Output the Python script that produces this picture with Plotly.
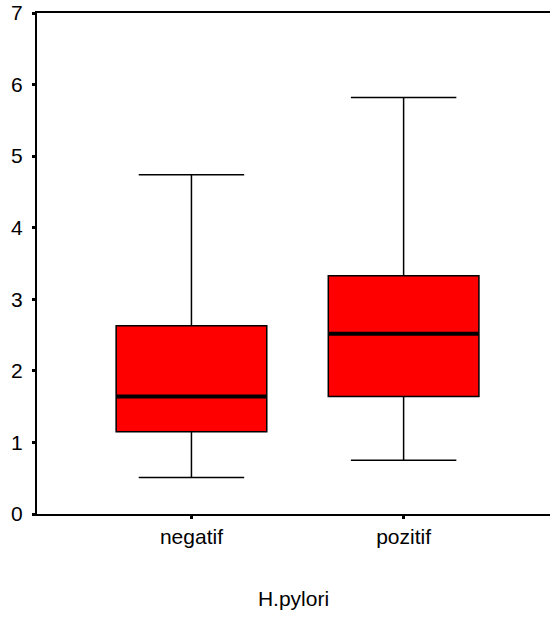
import plotly.graph_objects as go

categories = ["negatif", "pozitif"]
lower_whisker = [0.51, 0.75]
q1 = [1.15, 1.64]
median = [1.64, 2.52]
q3 = [2.63, 3.33]
upper_whisker = [4.74, 5.82]
y_ticks = [0, 1, 2, 3, 4, 5, 6, 7]

positions = list(range(len(categories)))
box_w = 0.71

fig = go.Figure()
fig.add_trace(go.Box(
    x=positions,
    lowerfence=lower_whisker, q1=q1, median=median, q3=q3, upperfence=upper_whisker,
    width=box_w, whiskerwidth=0.7,
    fillcolor="#ff0000", line=dict(color="black", width=1.5),
    boxpoints=False, showlegend=False, hoverinfo="skip",
))
# thick median lines
for p, m in zip(positions, median):
    fig.add_trace(go.Scatter(
        x=[p - box_w / 2, p + box_w / 2], y=[m, m], mode="lines",
        line=dict(color="black", width=4), showlegend=False, hoverinfo="skip",
    ))

font = dict(family="Liberation Sans, Arial, sans-serif", size=21, color="#000000")
fig.update_layout(
    width=550, height=619,
    margin=dict(l=37, r=0, t=13, b=105),
    plot_bgcolor="white", paper_bgcolor="white",
    font=font,
    xaxis=dict(
        range=[-0.728, 1.69], tickvals=positions, ticktext=categories,
        showline=True, linecolor="black", linewidth=2, mirror=True,
        ticks="outside", ticklen=3, tickwidth=3, tickcolor="black",
        showgrid=False, zeroline=False, automargin=False,
        title=dict(text="H.pylori", standoff=44, font=font),
    ),
    yaxis=dict(
        range=[0, 7], tickvals=y_ticks,
        showline=True, linecolor="black", linewidth=2,
        ticks="outside", ticklen=3, tickwidth=3, tickcolor="black",
        showgrid=False, zeroline=False, automargin=False,
        ticklabelstandoff=5, ticklabeloverflow="allow",
    ),
)
fig.write_html(
    "out.html",
    config={"displayModeBar": False},
    post_script="document.body.style.margin='0';",
)
